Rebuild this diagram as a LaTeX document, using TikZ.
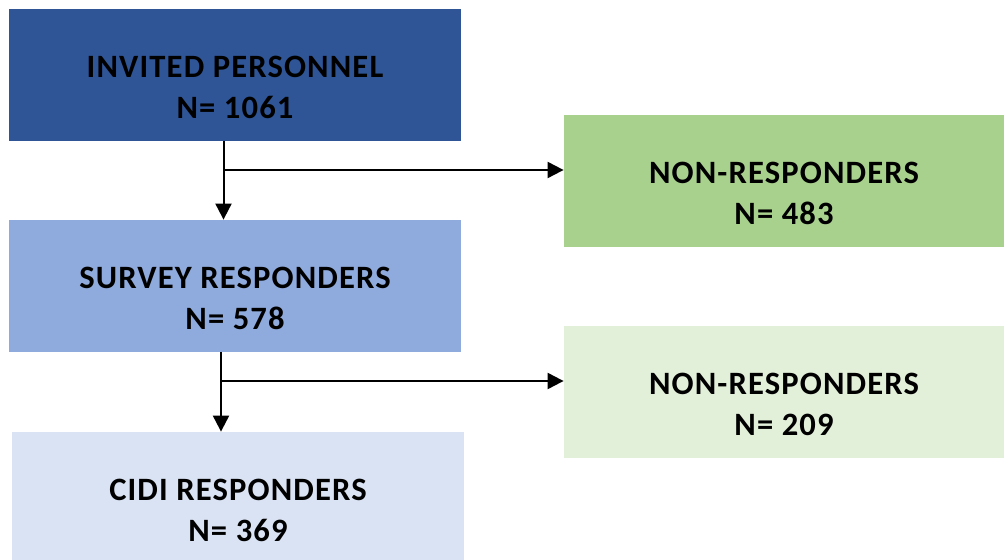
\documentclass[tikz,border=0pt]{standalone}
\usepackage{fontspec}
\setmainfont{Carlito}[LetterSpace=3.5]
\usetikzlibrary{arrows.meta}
\definecolor{invitedblue}{HTML}{2F5597}
\definecolor{surveyblue}{HTML}{8FAADC}
\definecolor{cidiblue}{HTML}{DAE3F3}
\definecolor{nonrespgreen}{HTML}{A9D18E}
\definecolor{nonresplight}{HTML}{E2EFD9}
\tikzset{
  box/.style={rectangle,inner sep=0pt,minimum width=226pt,minimum height=66pt},
  sidebox/.style={box,minimum width=220pt},
  boxtext/.style={align=center,font=\fontsize{16.3}{20.5}\selectfont\bfseries,inner sep=0pt},
  flowarrow/.style={line width=1pt,-{Triangle[length=8pt,width=8pt]}}
}
\begin{document}
\begin{tikzpicture}[x=0.5pt,y=-0.5pt]
    %initialisation
    \clip (0,0) rectangle (1004,560);
    %definitions
    \node[box,fill=invitedblue] (invited) at (235,75) {};
    \node[box,fill=surveyblue] (survey) at (235,286) {};
    \node[box,fill=cidiblue] (cidi) at (238,498) {};
    \node[sidebox,fill=nonrespgreen] (nonrespA) at (784,181) {};
    \node[sidebox,fill=nonresplight] (nonrespB) at (784,392) {};
    \coordinate (trunkA) at (223.5,141);
    \coordinate (splitA) at (223.5,170);
    \coordinate (trunkB) at (221,352);
    \coordinate (splitB) at (221,381);
    %label
    \node[boxtext] (invitedtxt) at ([yshift=-6.3pt]invited.center) {INVITED PERSONNEL\\N= 1061};
    \node[boxtext] (surveytxt) at ([yshift=-6.3pt]survey.center) {SURVEY RESPONDERS\\N= 578};
    \node[boxtext] (cidittxt) at ([yshift=-6.3pt]cidi.center) {CIDI RESPONDERS\\N= 369};
    \node[boxtext] (nonrespAtxt) at ([yshift=-6.3pt]nonrespA.center) {NON-RESPONDERS\\N= 483};
    \node[boxtext] (nonrespBtxt) at ([yshift=-6.3pt]nonrespB.center) {NON-RESPONDERS\\N= 209};
    %drawing
    \draw[flowarrow] (trunkA) -- (trunkA |- survey.north);
    \draw[flowarrow] (splitA) -- (splitA -| nonrespA.west);
    \draw[flowarrow] (trunkB) -- (trunkB |- cidi.north);
    \draw[flowarrow] (splitB) -- (splitB -| nonrespB.west);
\end{tikzpicture}
\end{document}
